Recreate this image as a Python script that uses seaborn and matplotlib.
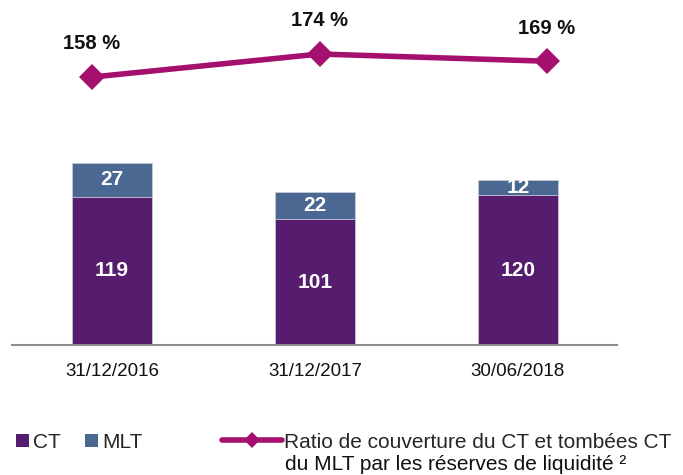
import matplotlib
matplotlib.use("Agg")
import matplotlib.pyplot as plt
from matplotlib import font_manager
from matplotlib.patches import Patch
from matplotlib.lines import Line2D
import seaborn as sns
import pandas as pd

# Data
dates = ["31/12/2016", "31/12/2017", "30/06/2018"]
ct = [119, 101, 120]
mlt = [27, 22, 12]
ratio = [158, 174, 169]

names = {f.name for f in font_manager.fontManager.ttflist}
narrow = "Liberation Sans Narrow" if "Liberation Sans Narrow" in names else "Liberation Sans"

sns.set_theme(style="white")
plt.rcParams["font.family"] = [narrow, "DejaVu Sans"]

C_CT = "#561C6E"
C_MLT = "#4A6891"
C_LINE = "#A5106E"

fig = plt.figure(figsize=(6.83, 4.75), dpi=100)
left, right = 12 / 683, 617 / 683
bottom, top = 130 / 475, 1.0
ax = fig.add_axes([left, bottom, right - left, top - bottom])

df = pd.DataFrame({"date": dates, "CT": ct, "MLT": mlt, "ratio": ratio})
df["total"] = df["CT"] + df["MLT"]

bw = 0.394
sns.barplot(data=df, x="date", y="total", color=C_MLT, width=bw, saturation=1,
            edgecolor="#C9C9D6", linewidth=0.6, ax=ax)
sns.barplot(data=df, x="date", y="CT", color=C_CT, width=bw, saturation=1,
            edgecolor="#C9C9D6", linewidth=0.6, ax=ax)

ax.set_xlim(-0.493, 2.488)
ax.set_ylim(0, 345 / 1.247)
for s in ["top", "right", "left"]:
    ax.spines[s].set_visible(False)
ax.spines["bottom"].set_color("#8C8C8C")
ax.spines["bottom"].set_linewidth(1.5)
ax.set_yticks([])
ax.set_xlabel("")
ax.set_ylabel("")
ax.tick_params(axis="x", length=0, pad=13, labelsize=13.5, colors="#111111")

for i in range(len(dates)):
    ax.text(i, ct[i] / 2, str(ct[i]), ha="center", va="center", color="white",
            fontsize=15, fontweight="bold")
    ax.text(i, ct[i] + mlt[i] / 2, str(mlt[i]), ha="center", va="center",
            color="white", fontsize=15, fontweight="bold")

# Coverage ratio line on its own axes
ax2 = fig.add_axes(ax.get_position(), facecolor="none")
sns.lineplot(x=[0, 1, 2], y=ratio, color=C_LINE, linewidth=4, marker="D",
             markersize=13, markeredgewidth=0, ax=ax2)
ax2.set_xlim(-0.352, 2.308)
ax2.set_ylim(-28, 211.5)
ax2.axis("off")
for i, r in enumerate(ratio):
    ax2.annotate(f"{r} %", (i, r), xytext=(0, 17), textcoords="offset points",
                 ha="center", va="bottom", fontsize=14.5, fontweight="bold",
                 color="#111111")

# Legends
h_bars = [Patch(facecolor=C_CT, edgecolor="none"), Patch(facecolor=C_MLT, edgecolor="none")]
fig.legend(h_bars, ["CT", "MLT"], loc="center left",
           bbox_to_anchor=(16 / 683, 1 - 442 / 475), ncol=2, frameon=False,
           handlelength=0.6, handleheight=0.6, handletextpad=0.2,
           columnspacing=1.2, fontsize=15, borderaxespad=0, borderpad=0)
h_line = [Line2D([0], [0], color=C_LINE, linewidth=4, marker="D", markersize=8,
                 markeredgewidth=0)]
fig.legend(h_line, ["Ratio de couverture du CT et tombées CT"], loc="center left",
           bbox_to_anchor=(222 / 683, 1 - 442 / 475), frameon=False,
           handlelength=2.9, handletextpad=0.1, fontsize=15,
           borderaxespad=0, borderpad=0)
fig.text(285 / 683, 1 - 465 / 475, "du MLT par les réserves de liquidité ²",
         ha="left", va="center", fontsize=15, color="#111111")

fig.savefig("out.png", dpi=100)
